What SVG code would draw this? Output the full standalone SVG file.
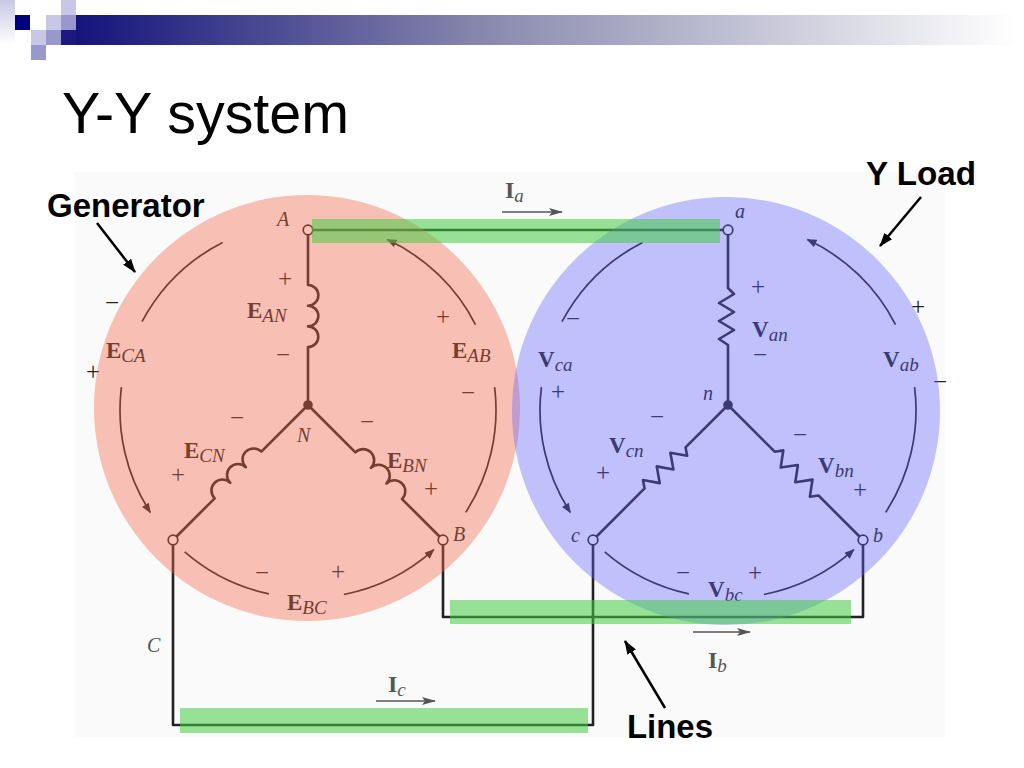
<svg xmlns="http://www.w3.org/2000/svg" width="1024" height="768" viewBox="0 0 1024 768">
<defs>
<linearGradient id="barGrad" x1="0" y1="0" x2="1" y2="0">
<stop offset="0" stop-color="#14147c"/>
<stop offset="0.45" stop-color="#8c8cb0"/>
<stop offset="1" stop-color="#ffffff"/>
</linearGradient>
<linearGradient id="edgeGrad" x1="0" y1="0" x2="0" y2="1">
<stop offset="0" stop-color="#c8c8e4"/>
<stop offset="1" stop-color="#ffffff"/>
</linearGradient>
<marker id="arcHead" viewBox="0 0 10 8" refX="9" refY="4" markerWidth="11" markerHeight="8" markerUnits="userSpaceOnUse" orient="auto">
<path d="M0,0 L10,4 L0,8 z" fill="#222"/>
</marker>
<marker id="curHead" viewBox="0 0 14 8" refX="13" refY="4" markerWidth="14" markerHeight="8" markerUnits="userSpaceOnUse" orient="auto">
<path d="M0,0 L14,4 L0,8 L3,4 z" fill="#555"/>
</marker>
<marker id="ptrHead" viewBox="0 0 14 10" refX="13" refY="5" markerWidth="14" markerHeight="10" markerUnits="userSpaceOnUse" orient="auto">
<path d="M0,0 L14,5 L0,10 z" fill="#000"/>
</marker>
</defs>
<style>
.wire{fill:none;stroke:#222;stroke-width:2.6;stroke-linejoin:round}
.arc{fill:none;stroke:#222;stroke-width:1.7}
.arrowarc{fill:none;stroke:#222;stroke-width:1.7;marker-end:url(#arcHead)}
.term{fill:#fff;stroke:#222;stroke-width:1.7}
.dot{fill:#222}
.lbl{font-family:"Liberation Serif","Times New Roman",serif;fill:#222}
.gray{fill:#555}
.bf{font-weight:bold;font-size:23px}
.bi{font-weight:bold;font-size:24px}
.sub{font-style:italic;font-size:19px}
.it{font-style:italic;font-size:20px}
.pm{font-family:"Liberation Serif","Times New Roman",serif;font-size:25px;text-anchor:middle;fill:#222}
.curline{stroke:#555;stroke-width:1.6;fill:none;marker-end:url(#curHead)}
.ptr{stroke:#000;stroke-width:2.5;fill:none;marker-end:url(#ptrHead)}
.hd{font-family:"Liberation Sans",Arial,sans-serif;font-weight:bold;font-size:33px;fill:#000}
.title{font-family:"Liberation Sans",Arial,sans-serif;font-size:57px;fill:#000}
.sq1{fill:#c8c8e6}
.sq2{fill:#9898cc}
</style>

<rect width="1024" height="768" fill="#ffffff"/>

<g id="header">
<rect x="0" y="0" width="15" height="45" fill="url(#edgeGrad)"/>
<rect x="15" y="15" width="15" height="15" fill="#00007f"/>
<rect x="46" y="15" width="15" height="15" class="sq1"/>
<rect x="61" y="15" width="15" height="15" class="sq2"/>
<rect x="61" y="0" width="15" height="15" class="sq1"/>
<rect x="31" y="30" width="15" height="15" class="sq1"/>
<rect x="46" y="30" width="15" height="15" class="sq2"/>
<rect x="31" y="45" width="15" height="15" class="sq2"/>
<rect x="61" y="30" width="15" height="15" fill="#1a1a80"/>
<rect x="76" y="15" width="940" height="30" fill="url(#barGrad)"/>
</g>

<text id="title" class="title" x="62" y="133" textLength="287" lengthAdjust="spacingAndGlyphs">Y-Y system</text>

<rect id="scan-bg" x="75" y="172" width="870" height="565" fill="#fafafa"/>

<g id="connectors">
<path id="line-a" class="wire" d="M308,230 H728"/>
<path id="line-b" class="wire" d="M443,540 V617 H863 V540"/>
<path id="line-c" class="wire" d="M173,540 V725 H593 V540"/>
</g>

<g id="generator">
<path class="wire" d="M308,230 V285 a10.3,10.3 0 0 1 0,20.7 a10.3,10.3 0 0 1 0,20.7 a10.3,10.3 0 0 1 0,20.6 V405"/>
<path class="wire" transform="translate(308,405) rotate(135)" d="M0,0 H66 a11,11 0 0 0 22,0 a11,11 0 0 0 22,0 a11,11 0 0 0 22,0 H190.9"/>
<path class="wire" transform="translate(308,405) rotate(45)" d="M0,0 H67 a11,11 0 0 1 22,0 a11,11 0 0 1 22,0 a11,11 0 0 1 22,0 H190.9"/>
<circle class="dot" cx="308" cy="405" r="4.8"/>
<circle class="term" cx="308" cy="230" r="4.8"/>
<circle class="term" cx="173" cy="540" r="4.8"/>
<circle class="term" cx="443" cy="540" r="4.8"/>
<g id="gen-arcs">
<path class="arc" d="M222.6,242.5 A188,188 0 0 0 142,321.7"/>
<path class="arrowarc" d="M121.4,387.1 A188,188 0 0 0 150.3,512.4"/>
<path class="arrowarc" d="M475.5,324.6 A188,188 0 0 0 387.4,239.6"/>
<path class="arc" d="M494.6,387.1 A188,188 0 0 1 465.7,512.4"/>
<path class="arc" d="M184.7,551.9 A188,188 0 0 0 268.9,593.9"/>
<path class="arrowarc" d="M343.9,594.5 A188,188 0 0 0 433.8,549.7"/>
</g>
<g id="gen-labels">
<text class="lbl it" x="277" y="226" font-size="19">A</text>
<text class="lbl" x="247" y="318"><tspan class="bf">E</tspan><tspan class="sub" dy="4">AN</tspan></text>
<text class="lbl" x="106" y="358"><tspan class="bf">E</tspan><tspan class="sub" dy="4">CA</tspan></text>
<text class="lbl" x="452" y="358"><tspan class="bf">E</tspan><tspan class="sub" dy="4">AB</tspan></text>
<text class="lbl it" x="297" y="442">N</text>
<text class="lbl" x="184" y="458"><tspan class="bf">E</tspan><tspan class="sub" dy="4">CN</tspan></text>
<text class="lbl" x="387" y="468"><tspan class="bf">E</tspan><tspan class="sub" dy="4">BN</tspan></text>
<text class="lbl it" x="453" y="541">B</text>
<text class="lbl" x="287" y="610"><tspan class="bf">E</tspan><tspan class="sub" dy="4">BC</tspan></text>
<text class="pm" x="285" y="287">+</text>
<text class="pm" x="283" y="363">−</text>
<text class="pm" x="112" y="311">−</text>
<text class="pm" x="93" y="380">+</text>
<text class="pm" x="443" y="325">+</text>
<text class="pm" x="468" y="401">−</text>
<text class="pm" x="237" y="426">−</text>
<text class="pm" x="367" y="430">−</text>
<text class="pm" x="178" y="483">+</text>
<text class="pm" x="431" y="497">+</text>
<text class="pm" x="262" y="581">−</text>
<text class="pm" x="338" y="580">+</text>
</g>
</g>

<g id="load">
<path class="wire" d="M728,230 V288 L734,294 L719,303 L734,312 L719,321 L734,330 L719,339 L728,345 V405"/>
<path class="wire" transform="translate(728,405) rotate(135)" d="M0,0 H60 L64.8,-7 L74.5,7 L84.2,-7 L93.8,7 L103.5,-7 L113.2,7 L118,0 H190.9"/>
<path class="wire" transform="translate(728,405) rotate(45)" d="M0,0 H66 L71.2,-7 L81.5,7 L91.8,-7 L102.2,7 L112.5,-7 L122.8,7 L128,0 H190.9"/>
<circle class="dot" cx="728" cy="405" r="4.8"/>
<circle class="term" cx="728" cy="230" r="4.8"/>
<circle class="term" cx="593" cy="540" r="4.8"/>
<circle class="term" cx="863" cy="540" r="4.8"/>
<g id="load-arcs" transform="translate(420,0)">
<path class="arc" d="M222.6,242.5 A188,188 0 0 0 142,321.7"/>
<path class="arrowarc" d="M121.4,387.1 A188,188 0 0 0 150.3,512.4"/>
<path class="arrowarc" d="M475.5,324.6 A188,188 0 0 0 387.4,239.6"/>
<path class="arc" d="M494.6,387.1 A188,188 0 0 1 465.7,512.4"/>
<path class="arc" d="M184.7,551.9 A188,188 0 0 0 268.9,593.9"/>
<path class="arrowarc" d="M343.9,594.5 A188,188 0 0 0 433.8,549.7"/>
</g>
<g id="load-labels">
<text class="lbl it" x="735" y="218">a</text>
<text class="lbl" x="752" y="337"><tspan class="bf">V</tspan><tspan class="sub" dy="4">an</tspan></text>
<text class="lbl" x="538" y="367"><tspan class="bf">V</tspan><tspan class="sub" dy="4">ca</tspan></text>
<text class="lbl" x="883" y="367"><tspan class="bf">V</tspan><tspan class="sub" dy="4">ab</tspan></text>
<text class="lbl it" x="703" y="400">n</text>
<text class="lbl" x="609" y="453"><tspan class="bf">V</tspan><tspan class="sub" dy="4">cn</tspan></text>
<text class="lbl" x="818" y="473"><tspan class="bf">V</tspan><tspan class="sub" dy="4">bn</tspan></text>
<text class="lbl it" x="571" y="542">c</text>
<text class="lbl it" x="873" y="542">b</text>
<text class="lbl" x="708" y="597"><tspan class="bf">V</tspan><tspan class="sub" dy="4">bc</tspan></text>
<text class="pm" x="758" y="295">+</text>
<text class="pm" x="760" y="363">−</text>
<text class="pm" x="573" y="327">−</text>
<text class="pm" x="558" y="400">+</text>
<text class="pm" x="918" y="315">+</text>
<text class="pm" x="940" y="390">−</text>
<text class="pm" x="657" y="425">−</text>
<text class="pm" x="603" y="481">+</text>
<text class="pm" x="800" y="443">−</text>
<text class="pm" x="860" y="498">+</text>
<text class="pm" x="683" y="581">−</text>
<text class="pm" x="755" y="581">+</text>
</g>
</g>

<g id="currents">
<text class="lbl gray" x="505" y="198"><tspan class="bi">I</tspan><tspan class="sub" dy="4">a</tspan></text>
<path class="curline" d="M502,212 H562"/>
<text class="lbl gray" x="708" y="668"><tspan class="bi">I</tspan><tspan class="sub" dy="4">b</tspan></text>
<path class="curline" d="M693,632 H750"/>
<text class="lbl gray" x="388" y="692"><tspan class="bi">I</tspan><tspan class="sub" dy="4">c</tspan></text>
<path class="curline" d="M376,701 H435"/>
<text class="lbl it gray" x="147" y="652">C</text>
</g>

<g id="overlays">
<circle id="gen-circle" cx="307" cy="408" r="213" fill="#f46a4c" fill-opacity="0.4"/>
<circle id="load-circle" cx="726" cy="411" r="214" fill="#6060ff" fill-opacity="0.38"/>
<rect id="bar-a" x="312" y="219" width="408" height="24" fill="#44cc44" fill-opacity="0.55"/>
<rect id="bar-b" x="450" y="600" width="401" height="24" fill="#44cc44" fill-opacity="0.55"/>
<rect id="bar-c" x="180" y="708" width="408" height="25" fill="#44cc44" fill-opacity="0.55"/>
</g>

<g id="callouts">
<text class="hd" x="47" y="217">Generator</text>
<path class="ptr" d="M97,223 L135,272"/>
<text class="hd" x="866" y="185" textLength="110" lengthAdjust="spacingAndGlyphs">Y Load</text>
<path class="ptr" d="M921,197 L880,246"/>
<text class="hd" x="627" y="738" textLength="86" lengthAdjust="spacingAndGlyphs">Lines</text>
<path class="ptr" d="M665,708 L625,641"/>
</g>
</svg>
